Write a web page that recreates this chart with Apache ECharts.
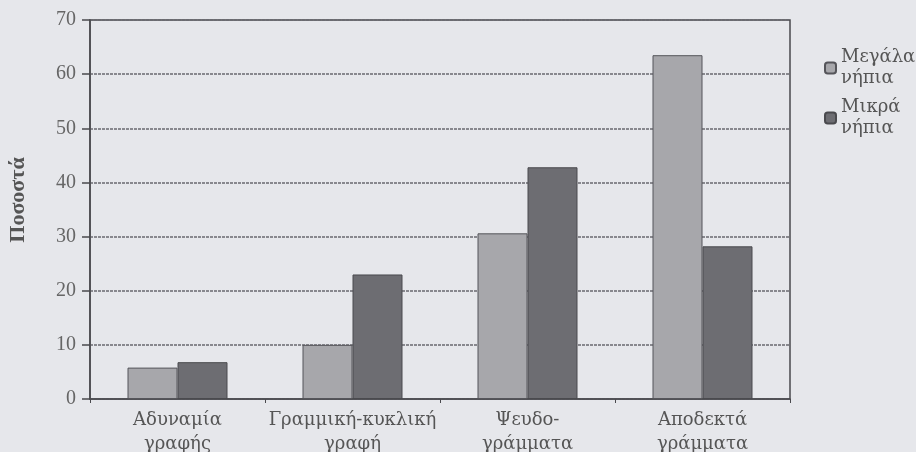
<!DOCTYPE html>
<html>
<head>
<meta charset="utf-8">
<script src="https://cdn.jsdelivr.net/npm/echarts@6/dist/echarts.min.js"></script>
<style>
html,body{margin:0;padding:0;background:#e6e7eb;}
#chart{width:916px;height:452px;}
</style>
</head>
<body>
<div id="chart"></div>
<script>
var categories = ['Αδυναμία\nγραφής', 'Γραμμική-κυκλική\nγραφή', 'Ψευδο-\nγράμματα', 'Αποδεκτά\nγράμματα'];
var seriesNames = ['Μεγάλα\nνήπια', 'Μικρά\nνήπια'];
var bigChildren = [5.8, 10, 30.6, 63.5];
var smallChildren = [6.8, 23, 42.8, 28.2];
var yTicks = [0, 10, 20, 30, 40, 50, 60, 70];

var chart = echarts.init(document.getElementById('chart'));
var serif = '"DejaVu Serif", "Liberation Serif", serif';
var serif2 = '"Liberation Serif", "DejaVu Serif", serif';
chart.setOption({
  backgroundColor: '#e6e7eb',
  animation: false,
  grid: {left: 90, right: 126, top: 20, bottom: 53, outerBoundsMode: 'none', containLabel: false,
         show: true, borderColor: '#4a4a4e', borderWidth: 1.5, backgroundColor: 'transparent'},
  legend: {
    orient: 'vertical', left: 819, top: 42, itemWidth: 11, itemHeight: 11, itemGap: 8,
    textStyle: {fontFamily: serif, fontSize: 18, color: '#555', lineHeight: 21},
    data: seriesNames
  },
  xAxis: {
    type: 'category', data: categories,
    axisLine: {lineStyle: {color: '#4a4a4e', width: 1.5}},
    axisTick: {show: true, length: 4, lineStyle: {color: '#4a4a4e'}},
    axisLabel: {interval: 0, fontFamily: serif, fontSize: 18, color: '#555', lineHeight: 24, margin: 9}
  },
  yAxis: {
    type: 'value', min: yTicks[0], max: yTicks[yTicks.length - 1], interval: 10,
    name: 'Ποσοστά', nameLocation: 'middle', nameGap: 61,
    nameTextStyle: {fontFamily: serif2, fontSize: 22, fontWeight: 'bold', color: '#555', padding: [0, 0, 0, 19]},
    axisLine: {show: true, lineStyle: {color: '#4a4a4e', width: 1.5}},
    axisTick: {show: true, length: 8, lineStyle: {color: '#4a4a4e', width: 1.5}},
    axisLabel: {fontFamily: serif2, fontSize: 20, color: '#666', margin: 14},
    splitLine: {show: true, lineStyle: {color: '#6a6a70', width: 1.5, type: [3, 1]}}
  },
  series: [
    {name: seriesNames[0], type: 'bar', data: bigChildren, barWidth: 50, barGap: '0%',
     itemStyle: {color: '#a7a7ab', borderColor: '#55555a', borderWidth: 1}},
    {name: seriesNames[1], type: 'bar', data: smallChildren, barWidth: 50,
     itemStyle: {color: '#6d6d72', borderColor: '#4a4a4e', borderWidth: 1}}
  ]
});
</script>
</body>
</html>
